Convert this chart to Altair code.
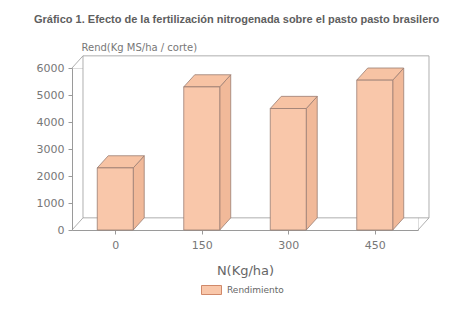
import altair as alt
import pandas as pd

# ---- data ----
N_LABELS = ["0", "150", "300", "450"]
RENDIMIENTO = [2300, 5300, 4500, 5550]
Y_TICKS = [0, 1000, 2000, 3000, 4000, 5000, 6000]
SERIES = "Rendimiento"

TITLE = "Gráfico 1. Efecto de la fertilización nitrogenada sobre el pasto pasto brasilero"
Y_TITLE = "Rend(Kg MS/ha / corte)"
X_TITLE = "N(Kg/ha)"

# ---- 3D geometry (in data units) ----
HALF = 0.208      # half bar width (category units)
DX = 0.127        # depth in x (category units)
DY = 450          # depth in y (value units)
YMAX = Y_TICKS[-1]
NCAT = len(N_LABELS)

FACE = "#F9C7AA"
TOPC = "#F7C3A4"
SIDE = "#F1B999"
EDGE = "#9a7e72"
FRAME = "#9a9a9a"
TXT = "#777777"

front = pd.DataFrame({"i": list(range(NCAT)), "N": N_LABELS, "v": RENDIMIENTO})
front["serie"] = SERIES
front["x1"] = front["i"] + 0.5 - HALF
front["x2"] = front["i"] + 0.5 + HALF
front["zero"] = 0

side_rows, top_rows = [], []
for r in front.itertuples():
    side_rows.append({"i": r.i, "sx": r.x2, "st": r.v, "sb": 0})
    side_rows.append({"i": r.i, "sx": r.x2 + DX, "st": r.v + DY, "sb": DY})
    top_rows.append({"i": r.i, "ty": r.v, "ta": r.x1, "tb": r.x2})
    top_rows.append({"i": r.i, "ty": r.v + DY, "ta": r.x1 + DX, "tb": r.x2 + DX})
side = pd.DataFrame(side_rows)
topf = pd.DataFrame(top_rows)

wall = pd.DataFrame({"wx": [DX], "wx2": [NCAT + DX], "wy": [DY], "wy2": [YMAX + DY]})
diag = pd.DataFrame({
    "ax": [0, NCAT, 0], "ay": [0, 0, YMAX],
    "bx": [DX, NCAT + DX, DX], "by": [DY, DY, YMAX + DY],
})

xs = alt.Scale(domain=[0, NCAT], nice=False, zero=False)
ys = alt.Scale(domain=[0, YMAX], nice=False, zero=False)

label_arr = "[" + ",".join("'%s'" % s for s in N_LABELS) + "]"

x_axis = alt.Axis(
    values=[k + 0.5 for k in range(NCAT)],
    labelExpr=label_arr + "[floor(datum.value)]",
    tickSize=4, labelPadding=5, labelFontSize=11, labelColor=TXT,
    labelFont="DejaVu Sans", domainColor=FRAME, tickColor=FRAME,
    title=X_TITLE, titleFont="DejaVu Sans", titleFontSize=13, titleFontWeight="normal",
    titleColor="#666666", titleY=40, titleBaseline="middle", grid=False,
    labelOverlap=False,
)
y_axis = alt.Axis(
    values=[float(t) for t in Y_TICKS], format="d", tickSize=4, labelPadding=4,
    labelFontSize=11, labelColor=TXT, labelFont="DejaVu Sans",
    domainColor=FRAME, tickColor=FRAME,
    title=Y_TITLE, titleFont="DejaVu Sans", titleFontSize=10, titleFontWeight="normal",
    titleColor=TXT, titleAngle=0, titleAlign="left", titleX=9, titleY=-21,
    titleBaseline="middle", grid=False, labelOverlap=False, labelFlush=False,
)

def X(f):
    return alt.X(f, scale=xs, axis=x_axis)

def Y(f):
    return alt.Y(f, scale=ys, axis=y_axis)

wall_l = alt.Chart(wall).mark_rect(fill="white", stroke=FRAME, strokeWidth=0.8).encode(
    x=X("wx:Q"), x2="wx2:Q", y=Y("wy:Q"), y2="wy2:Q",
)
diag_l = alt.Chart(diag).mark_rule(color=FRAME, strokeWidth=0.8).encode(
    x=X("ax:Q"), x2="bx:Q", y=Y("ay:Q"), y2="by:Q",
)
side_l = alt.Chart(side).mark_area(orient="vertical", fill=SIDE, stroke=EDGE, strokeWidth=0.8).encode(
    x=X("sx:Q"), y=Y("st:Q"), y2="sb:Q", detail="i:N",
)
top_l = alt.Chart(topf).mark_area(orient="horizontal", fill=TOPC, stroke=EDGE, strokeWidth=0.8).encode(
    y=Y("ty:Q"), x=X("ta:Q"), x2="tb:Q", detail="i:N",
)
front_l = alt.Chart(front).mark_rect(stroke=EDGE, strokeWidth=0.8).encode(
    x=X("x1:Q"), x2="x2:Q", y=Y("zero:Q"), y2="v:Q",
    color=alt.Color("serie:N", scale=alt.Scale(range=[FACE]), legend=alt.Legend(
        orient="none", legendX=129, legendY=211.5, title=None, padding=0,
        symbolType="M-1,-0.45H1V0.45H-1Z", symbolSize=400,
        symbolStrokeColor="#d0896a", symbolStrokeWidth=1, symbolOpacity=1,
        labelFont="DejaVu Sans", labelFontSize=9, labelColor="#666666", labelOffset=5,
    )),
)

chart = alt.layer(wall_l, diag_l, side_l, top_l, front_l).properties(
    width=346, height=162,
    autosize=alt.AutoSizeParams(type="none"),
    padding={"left": 72, "top": 68, "right": 46, "bottom": 83},
    title=alt.TitleParams(
        TITLE, anchor="start", dx=-2, offset=17, font="Liberation Sans",
        fontSize=11, fontWeight=900, color="#5e5e5e",
    ),
).configure_view(stroke=None).configure(background="white")

chart.save("out.html", embed_options={"renderer": "svg", "actions": False})
